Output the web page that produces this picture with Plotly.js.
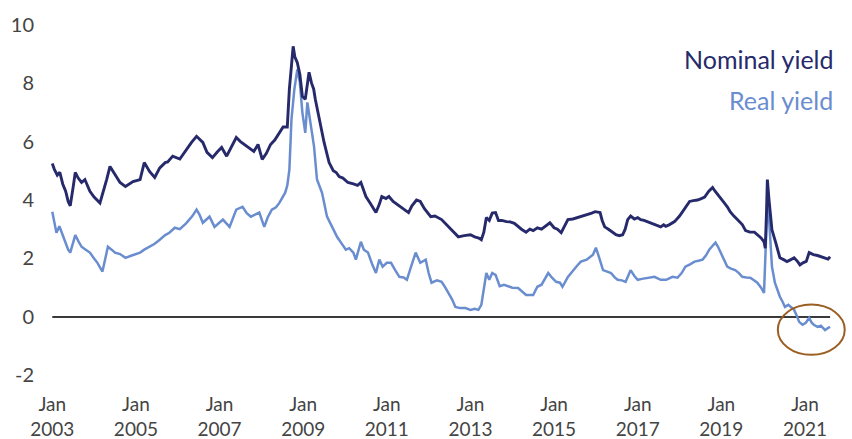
<!DOCTYPE html>
<html>
<head>
<meta charset="utf-8">
<script src="https://cdn.plot.ly/plotly-3.0.1.min.js"></script>
<style>html,body{margin:0;padding:0;background:#fff;}#chart{width:852px;height:439px;}</style>
</head>
<body>
<div id="chart"></div>
<script>
// Decimal-year positions and yields (%)
const nominalYears = [2003.00,2003.05,2003.12,2003.18,2003.25,2003.32,2003.38,2003.43,2003.50,2003.55,2003.62,2003.70,2003.78,2003.90,2004.00,2004.14,2004.30,2004.38,2004.50,2004.62,2004.75,2004.93,2005.10,2005.20,2005.33,2005.45,2005.57,2005.70,2005.76,2005.88,2006.05,2006.20,2006.33,2006.45,2006.52,2006.60,2006.70,2006.83,2006.95,2007.05,2007.17,2007.30,2007.40,2007.50,2007.60,2007.72,2007.82,2007.92,2008.02,2008.12,2008.22,2008.32,2008.43,2008.52,2008.62,2008.67,2008.72,2008.76,2008.80,2008.86,2008.92,2008.98,2009.05,2009.10,2009.14,2009.20,2009.25,2009.29,2009.38,2009.50,2009.62,2009.72,2009.79,2009.86,2009.95,2010.07,2010.20,2010.30,2010.38,2010.50,2010.60,2010.74,2010.82,2010.88,2010.98,2011.05,2011.15,2011.25,2011.36,2011.45,2011.52,2011.60,2011.71,2011.80,2011.90,2012.05,2012.15,2012.31,2012.40,2012.48,2012.60,2012.71,2012.85,2013.00,2013.10,2013.20,2013.26,2013.32,2013.38,2013.45,2013.52,2013.60,2013.67,2013.75,2013.86,2013.95,2014.05,2014.14,2014.22,2014.33,2014.42,2014.50,2014.60,2014.70,2014.80,2014.90,2015.00,2015.08,2015.17,2015.25,2015.33,2015.45,2015.57,2015.70,2015.80,2015.90,2015.98,2016.10,2016.15,2016.21,2016.30,2016.40,2016.48,2016.56,2016.64,2016.70,2016.76,2016.83,2016.92,2017.00,2017.07,2017.15,2017.24,2017.31,2017.40,2017.48,2017.55,2017.62,2017.67,2017.75,2017.88,2018.00,2018.07,2018.15,2018.24,2018.33,2018.43,2018.52,2018.60,2018.70,2018.79,2018.85,2018.95,2019.07,2019.15,2019.21,2019.30,2019.38,2019.50,2019.58,2019.68,2019.79,2019.88,2019.95,2020.02,2020.05,2020.08,2020.10,2020.14,2020.18,2020.21,2020.30,2020.40,2020.50,2020.57,2020.65,2020.74,2020.82,2020.88,2020.95,2021.03,2021.10,2021.20,2021.30,2021.45,2021.55,2021.60];
const nominalYield = [5.25,5.05,4.85,4.95,4.55,4.30,3.95,3.80,4.45,4.94,4.75,4.60,4.70,4.30,4.10,3.90,4.70,5.15,4.87,4.60,4.46,4.63,4.70,5.28,4.97,4.77,5.10,5.28,5.30,5.50,5.40,5.73,5.97,6.18,6.07,5.97,5.63,5.45,5.65,5.80,5.50,5.85,6.14,6.00,5.90,5.75,5.66,5.90,5.39,5.60,5.90,6.05,6.30,6.50,6.50,7.80,8.60,9.26,8.90,8.70,8.30,7.55,7.45,8.00,8.37,8.00,7.80,7.45,6.76,5.97,5.28,5.00,4.94,4.80,4.75,4.60,4.55,4.50,4.60,4.12,3.90,3.57,3.85,4.12,4.05,4.12,3.95,3.85,3.74,3.65,3.57,3.80,4.00,3.95,3.70,3.43,3.45,3.33,3.20,3.05,2.90,2.74,2.78,2.81,2.74,2.70,2.64,2.90,3.40,3.30,3.55,3.57,3.30,3.30,3.26,3.25,3.20,3.08,3.00,2.90,3.00,2.95,3.05,3.00,3.10,3.22,3.05,3.00,2.88,3.10,3.33,3.35,3.40,3.45,3.50,3.55,3.60,3.57,3.30,3.08,3.00,2.90,2.81,2.78,2.81,3.00,3.33,3.45,3.35,3.40,3.33,3.30,3.25,3.22,3.15,3.10,3.08,3.15,3.10,3.15,3.26,3.45,3.60,3.80,3.95,3.98,4.00,4.05,4.10,4.30,4.43,4.30,4.10,3.90,3.75,3.60,3.45,3.33,3.16,2.95,2.90,2.90,2.80,2.70,2.57,2.35,3.60,4.70,4.00,3.30,2.98,2.54,2.02,1.95,1.89,1.95,2.02,1.90,1.78,1.85,1.90,2.20,2.13,2.10,2.02,1.98,2.06];

const realYears = [2003.00,2003.05,2003.10,2003.17,2003.22,2003.30,2003.38,2003.43,2003.50,2003.55,2003.62,2003.70,2003.80,2003.90,2004.00,2004.08,2004.20,2004.27,2004.33,2004.42,2004.50,2004.62,2004.75,2004.90,2005.10,2005.20,2005.33,2005.45,2005.57,2005.70,2005.80,2005.93,2006.05,2006.20,2006.35,2006.45,2006.52,2006.60,2006.70,2006.76,2006.88,2007.00,2007.08,2007.24,2007.32,2007.40,2007.55,2007.65,2007.75,2007.85,2007.95,2008.07,2008.15,2008.25,2008.35,2008.43,2008.50,2008.57,2008.62,2008.67,2008.72,2008.79,2008.86,2008.92,2008.98,2009.05,2009.10,2009.15,2009.19,2009.26,2009.33,2009.45,2009.57,2009.69,2009.81,2009.90,2010.02,2010.10,2010.20,2010.26,2010.32,2010.38,2010.45,2010.55,2010.65,2010.74,2010.82,2010.90,2011.00,2011.10,2011.20,2011.30,2011.40,2011.48,2011.58,2011.69,2011.80,2011.93,2012.00,2012.07,2012.20,2012.31,2012.40,2012.48,2012.56,2012.64,2012.75,2012.88,2013.00,2013.10,2013.19,2013.26,2013.32,2013.38,2013.45,2013.52,2013.60,2013.70,2013.80,2013.90,2014.00,2014.14,2014.25,2014.33,2014.50,2014.60,2014.70,2014.78,2014.86,2014.95,2015.05,2015.14,2015.20,2015.33,2015.45,2015.55,2015.64,2015.78,2015.93,2016.00,2016.08,2016.17,2016.27,2016.36,2016.45,2016.52,2016.62,2016.71,2016.77,2016.83,2016.92,2017.00,2017.10,2017.24,2017.40,2017.55,2017.68,2017.83,2017.95,2018.05,2018.14,2018.25,2018.36,2018.45,2018.55,2018.63,2018.71,2018.80,2018.86,2018.92,2018.98,2019.06,2019.14,2019.23,2019.33,2019.42,2019.50,2019.60,2019.69,2019.78,2019.86,2019.95,2020.02,2020.07,2020.10,2020.13,2020.16,2020.21,2020.28,2020.35,2020.40,2020.47,2020.52,2020.60,2020.68,2020.74,2020.80,2020.86,2020.94,2021.02,2021.10,2021.16,2021.21,2021.30,2021.38,2021.48,2021.55,2021.60];
const realYield = [3.60,3.20,2.88,3.10,2.90,2.64,2.30,2.20,2.55,2.80,2.60,2.40,2.30,2.20,2.00,1.85,1.55,2.00,2.40,2.30,2.20,2.15,2.02,2.10,2.20,2.30,2.40,2.50,2.64,2.80,2.88,3.05,3.00,3.20,3.45,3.67,3.50,3.22,3.35,3.43,3.08,3.25,3.33,3.08,3.40,3.67,3.77,3.55,3.43,3.50,3.57,3.08,3.40,3.67,3.75,3.90,4.10,4.25,4.50,5.04,6.76,7.80,8.47,8.03,7.00,6.30,7.34,6.90,6.50,5.83,4.70,4.25,3.43,3.08,2.74,2.55,2.30,2.35,2.20,1.96,2.30,2.57,2.30,2.20,1.80,1.50,1.96,1.72,1.85,1.85,1.60,1.37,1.35,1.27,1.72,2.20,1.85,1.96,1.50,1.17,1.25,1.20,1.00,0.82,0.60,0.34,0.30,0.30,0.24,0.28,0.24,0.41,0.90,1.50,1.27,1.50,1.44,1.05,1.10,1.05,1.00,0.99,0.85,0.75,0.75,1.03,1.10,1.30,1.50,1.34,1.20,1.17,1.03,1.37,1.60,1.75,1.89,1.96,2.13,2.37,2.02,1.60,1.55,1.50,1.35,1.27,1.25,1.20,1.40,1.60,1.40,1.27,1.30,1.34,1.37,1.27,1.27,1.37,1.34,1.50,1.72,1.80,1.89,1.92,1.96,2.10,2.30,2.45,2.54,2.40,2.23,2.00,1.72,1.65,1.60,1.50,1.37,1.35,1.34,1.25,1.17,1.00,0.82,2.74,3.95,3.60,2.74,1.72,1.17,0.90,0.69,0.50,0.34,0.41,0.30,0.24,0.05,-0.17,-0.27,-0.20,-0.03,-0.20,-0.27,-0.34,-0.30,-0.45,-0.38,-0.34];

const seriesNames = ["Nominal yield", "Real yield"];
const tickYears = [2003,2005,2007,2009,2011,2013,2015,2017,2019,2021];
const tickText = tickYears.map(y => "Jan<br>" + y);
const yTicks = [-2,0,2,4,6,8,10];
const yTickText = yTicks.map(v => String(v));

const navy = "#262a6b";
const lightBlue = "#6a8dcf";

const traces = [
  {x: [nominalYears[0], nominalYears[nominalYears.length-1]], y: [0,0], mode: "lines",
   line: {color: "#3a3a3a", width: 2}, hoverinfo: "skip", showlegend: false},
  {x: realYears, y: realYield, name: seriesNames[1], mode: "lines",
   line: {color: lightBlue, width: 2.5}, showlegend: false},
  {x: nominalYears, y: nominalYield, name: seriesNames[0], mode: "lines",
   line: {color: navy, width: 2.9}, showlegend: false}
];

const layout = {
  width: 852, height: 439,
  margin: {l: 46, r: 1, t: 13, b: 52},
  paper_bgcolor: "#fff", plot_bgcolor: "#fff",
  font: {family: "Lato, sans-serif", color: "#444"},
  xaxis: {range: [2002.85, 2022.1], tickvals: tickYears, ticktext: tickText,
          showgrid: false, zeroline: false, showline: false, ticks: "",
          tickfont: {family: "Liberation Sans Narrow, Lato, sans-serif", size: 19, color: "#444"},
          ticklabelstandoff: 4},
  yaxis: {range: [-2.4, 10.4], tickvals: yTicks, ticktext: yTickText, showgrid: false, zeroline: false,
          showline: false, ticks: "", tickfont: {family: "Lato, sans-serif", size: 20, color: "#444"},
          ticklabelstandoff: 11},
  annotations: [
    {xref: "paper", yref: "paper", x: 0.98, y: 0.876, xanchor: "right", yanchor: "middle",
     text: seriesNames[0], showarrow: false, font: {family: "Lato, sans-serif", size: 25, color: navy}},
    {xref: "paper", yref: "paper", x: 0.98, y: 0.768, xanchor: "right", yanchor: "middle",
     text: seriesNames[1], showarrow: false, font: {family: "Lato, sans-serif", size: 25, color: lightBlue}}
  ],
  shapes: [
    {type: "circle", xref: "x", yref: "y", x0: 2020.35, x1: 2021.95, y0: -1.3, y1: 0.42,
     line: {color: "#9a5e22", width: 2}, fillcolor: "rgba(0,0,0,0)"}
  ]
};

Plotly.newPlot("chart", traces, layout, {displayModeBar: false, staticPlot: true});
</script>
</body>
</html>
